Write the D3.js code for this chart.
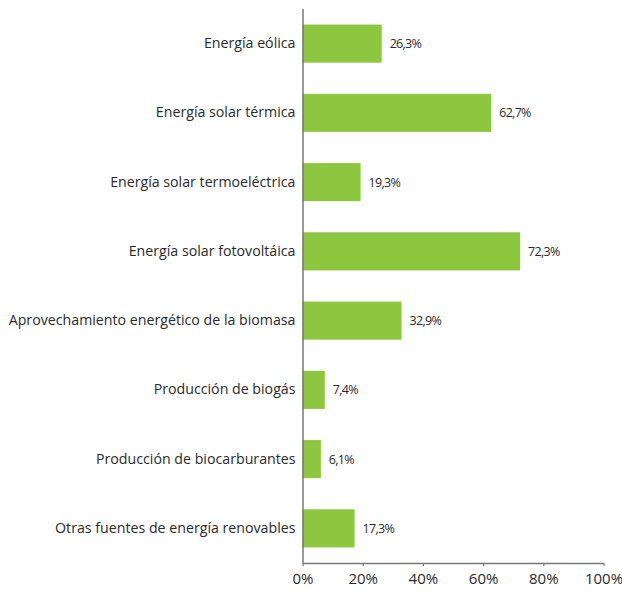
<!DOCTYPE html>
<html>
<head>
<meta charset="utf-8">
<script src="https://cdn.jsdelivr.net/npm/d3@7"></script>
<style>
  html, body { margin: 0; padding: 0; background: #fff; }
  svg { display: block; }
</style>
</head>
<body>
<svg id="chart" width="622" height="590"></svg>
<script>
// Renewable energy areas (share, %)
const categories = [
  "Energía eólica",
  "Energía solar térmica",
  "Energía solar termoeléctrica",
  "Energía solar fotovoltáica",
  "Aprovechamiento energético de la biomasa",
  "Producción de biogás",
  "Producción de biocarburantes",
  "Otras fuentes de energía renovables"
];
const values = [26.3, 62.7, 19.3, 72.3, 32.9, 7.4, 6.1, 17.3];
const tickValues = [0, 20, 40, 60, 80, 100];

const svg = d3.select("#chart");
const plotLeft = 302.5, plotRight = 603.5, plotTop = 9, plotBottom = 563;

const x = d3.scaleLinear().domain([0, 100]).range([plotLeft, plotRight]);
const y = d3.scaleBand().domain(categories).range([plotTop, plotBottom]).paddingInner(0.45).paddingOuter(0.225);

const fmt = v => v.toFixed(1).replace(".", ",") + "%";

// bars
svg.append("g").selectAll("rect")
  .data(values)
  .join("rect")
  .attr("x", x(0))
  .attr("y", (d, i) => y(categories[i]))
  .attr("width", d => x(d) - x(0))
  .attr("height", y.bandwidth())
  .attr("fill", "#8dc63f");

// value labels
svg.append("g").selectAll("text")
  .data(values)
  .join("text")
  .attr("x", d => x(d) + 8)
  .attr("y", (d, i) => y(categories[i]) + y.bandwidth() / 2)
  .attr("dy", "0.35em")
  .attr("font-family", "'Open Sans', sans-serif")
  .attr("font-size", 12.5)
  .attr("letter-spacing", "-0.7")
  .attr("fill", "#2a2a2a")
  .text(fmt);

// category axis
const yAxis = svg.append("g")
  .attr("transform", `translate(${plotLeft},0)`)
  .call(d3.axisLeft(y).tickSize(0).tickPadding(7));
yAxis.select(".domain").attr("d", `M0.5,${plotTop}V${plotBottom}`).attr("stroke", "#777").attr("stroke-width", 1.5);
yAxis.selectAll("text")
  .attr("font-family", "'Open Sans', sans-serif")
  .attr("font-size", 14.2)
  .attr("fill", "#2a2a2a");

// value axis
const xAxis = svg.append("g")
  .attr("transform", `translate(0,${plotBottom})`)
  .call(d3.axisBottom(x).tickValues(tickValues).tickFormat(d => d + "%").tickSize(3).tickSizeOuter(0).tickPadding(7));
xAxis.select(".domain").attr("stroke", "#777").attr("stroke-width", 1.5);
xAxis.selectAll(".tick line").attr("stroke", "#777").attr("stroke-width", 1.2);
xAxis.selectAll("text")
  .attr("font-family", "'Open Sans', sans-serif")
  .attr("font-size", 15)
  .attr("fill", "#2a2a2a");
</script>
</body>
</html>
